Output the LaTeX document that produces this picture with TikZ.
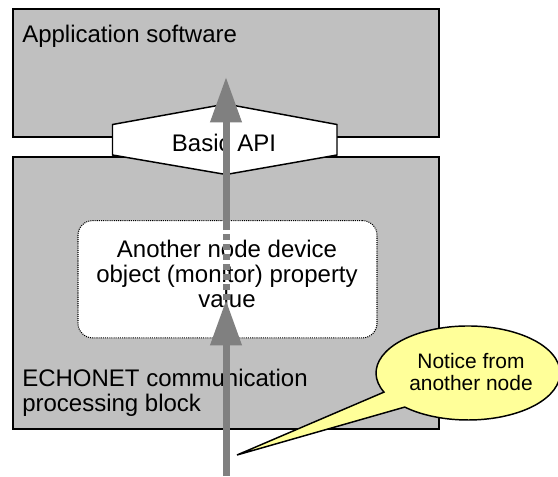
\documentclass[tikz,border=0pt]{standalone}
\usepackage{fontspec}
\setmainfont{Liberation Sans}
\usetikzlibrary{arrows.meta}
\definecolor{blockgray}{HTML}{C0C0C0}
\definecolor{flowgray}{HTML}{808080}
\definecolor{noteyellow}{HTML}{FFFF99}

\begin{document}
\begin{tikzpicture}[x=0.75pt,y=0.75pt,yscale=-1,xscale=1,
  block/.style={draw=black,line width=1.5pt,fill=blockgray,anchor=north west,inner sep=0pt,minimum width=319.5pt},
  txt/.style={inner sep=0pt,font=\fontsize{18}{18.75}\selectfont},
  flow/.style={draw=flowgray,line width=5.25pt,-{Triangle[width=22.5pt,length=34pt]}},
  gapflow/.style={draw=flowgray,line width=5.25pt,dash pattern=on 4.5pt off 3pt},
  valbox/.style={draw=black,fill=white,line width=0.8pt,dash pattern=on 0.8pt off 0.8pt,rounded corners=11pt,minimum width=224.25pt,minimum height=88pt,inner sep=0pt},
  note/.style={draw=black,line width=1.1pt,fill=noteyellow}]
\useasboundingbox (0,0) rectangle (558,476);

%Shape: Application software block
\node[block,minimum height=96pt] (app) at (12,8) {};
%Shape: ECHONET block
\node[block,minimum height=204pt] (echo) at (12,156) {};

%Shape: Basic API hexagon
\draw[black,line width=1.1pt,fill=white] (112.5,124.5) -- (226,104) -- (337,124.5) -- (337,155) -- (226,174.5) -- (112.5,155) -- cycle;

%Shape: property value box
\node[valbox] (val) at (227.5,279.25) {};

% Text Node
\node[txt,anchor=base west] (apptxt) at (22,42.5) {Application software};
% Text Node
\node[txt,anchor=base] (api) at (224,151) {Basic API};
% Text Node
\node[txt,align=center] (valtxt) at (227,274) {Another node device\\object (monitor) property\\value};
% Text Node
\node[txt,anchor=south west,align=left] (echotxt) at (22,417) {ECHONET communication\\processing block};

%Arrows
\coordinate (src) at (226,476);
\coordinate (recv) at (226,300);
\coordinate (send) at (226,230);
\coordinate (apptip) at (226,77);
\draw[gapflow] (recv) -- (send);
\draw[flow] (send) -- (apptip);
\draw[flow] (src) -- (recv);

%Shape: callout
\coordinate (tail) at (237,455);
\draw[note] (384,392.1) arc[start angle=156,end angle=493.5,x radius=92,y radius=47] -- (tail) -- cycle;
% Text Node
\node[inner sep=0pt,align=center,font=\fontsize{15.7}{16.5}\selectfont] (notice) at (471,372) {Notice from\\another node};

\end{tikzpicture}
\end{document}
